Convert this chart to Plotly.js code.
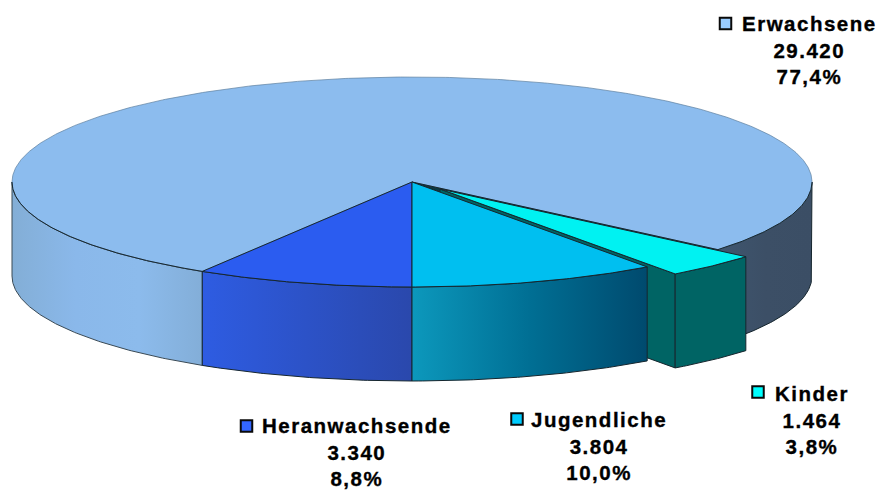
<!DOCTYPE html>
<html>
<head>
<meta charset="utf-8">
<script src="https://cdn.plot.ly/plotly-3.0.1.min.js"></script>
<style>
html,body{margin:0;padding:0;background:#fff}
#chart{width:878px;height:491px}
.annotation-text{letter-spacing:1.5px;stroke:#000;stroke-width:0.35px}
</style>
</head>
<body>
<div id="chart"></div>
<script>
const categories = ["Erwachsene", "Kinder", "Jugendliche", "Heranwachsende"];
const values = [29420, 1464, 3804, 3340];
const valueLabels = ["29.420", "1.464", "3.804", "3.340"];
const percentLabels = ["77,4%", "3,8%", "10,0%", "8,8%"];
const topColors = ["#8cbcee", "#00f2f2", "#00bff0", "#2b5cf0"];
const keyColors = ["#99ccff", "#00ffff", "#00ccff", "#3366ff"];

// Pie geometry in the pixel-scaled axes
const cx = 412, cy = 182, rx = 400, ry = 105, depth = 94;
const kinderShift = [28, 7];
const edge = "#16262e";
const labelAnchor = [[809, 50], [812, 420], [599, 446], [357, 452]];
const keyAnchor = [[725.5, 23.5], [758, 392], [517, 419], [246.5, 426]];

const total = values.reduce((a, b) => a + b, 0);
const sweep = values.map(v => v / total * 360);
// Angles measured from the front of the ellipse, positive to the right
const jugEnd = sweep[2];
const kinEnd = jugEnd + sweep[1];
const herStart = -sweep[3];

const rad = d => d * Math.PI / 180;
const rim = (t, s = [0, 0], dz = 0) => [cx + s[0] + rx * Math.sin(rad(t)), cy + s[1] + dz + ry * Math.cos(rad(t))];
function arc(a, b, s, dz) {
  const n = Math.max(2, Math.ceil(Math.abs(b - a) * 2)), out = [];
  for (let i = 0; i <= n; i++) out.push(rim(a + (b - a) * i / n, s, dz));
  return out;
}
function poly(points, fill, grad, lineW, lineC) {
  const tr = {
    type: "scatter", mode: "lines", hoverinfo: "skip", showlegend: false,
    x: points.map(p => p[0]), y: points.map(p => p[1]),
    fill: "toself",
    line: {color: lineC === undefined ? edge : lineC, width: lineW === undefined ? 1 : lineW}
  };
  if (grad) tr.fillgradient = {type: "horizontal", colorscale: grad.map((c, i) => [i / (grad.length - 1), c])};
  else tr.fillcolor = fill;
  return tr;
}
const closed = p => p.concat([p[0]]);
const wedgeTop = (a, b, s = [0, 0]) => closed([[cx + s[0], cy + s[1]]].concat(arc(a, b, s, 0)));
const wall = (a, b, s = [0, 0]) => closed(arc(a, b, s, 0).concat(arc(b, a, s, depth)));

const traces = [];
// Erwachsene: outer wall, then top
traces.push(poly(wall(kinEnd, 90), null, ["#3f566f", "#3c4f66", "#3b4e65"], 1));
traces.push(poly(wall(-90, herStart), null, ["#83aed6", "#8ab8ea", "#8cbbec", "#83aed8"], 1, "#3a4a55"));
traces.push(poly(wedgeTop(kinEnd, 360 + herStart), topColors[0], null, 0.7, "#5d7f9f"));
traces.push({type: "scatter", mode: "lines", hoverinfo: "skip", showlegend: false,
  x: arc(-90, herStart).map(p => p[0]), y: arc(-90, herStart).map(p => p[1]), line: {color: edge, width: 1}});
traces.push({type: "scatter", mode: "lines", hoverinfo: "skip", showlegend: false,
  x: arc(kinEnd, 90).map(p => p[0]), y: arc(kinEnd, 90).map(p => p[1]), line: {color: edge, width: 1}});
// Opening left behind by the pulled-out Kinder slice
traces.push(poly(wedgeTop(jugEnd, kinEnd), "#0d3a44", null, 1));
// Heranwachsende
traces.push(poly(wall(herStart, 0), null, ["#2e5ce2", "#2a48ac"], 1));
traces.push(poly(wedgeTop(herStart, 0), topColors[3], null, 1));
// Kinder: cut face, outer wall, top (exploded)
const kA = [cx + kinderShift[0], cy + kinderShift[1]];
const kB = rim(jugEnd, kinderShift);
traces.push(poly(closed([kA, kB, [kB[0], kB[1] + depth], [kA[0], kA[1] + depth]]), "#006464", null, 1));
traces.push(poly(wall(jugEnd, kinEnd, kinderShift), "#006464", null, 1));
traces.push(poly(wedgeTop(jugEnd, kinEnd, kinderShift), topColors[1], null, 1));
// Jugendliche
traces.push(poly(wall(0, jugEnd), null, ["#0c98bc", "#006f94", "#004a6e"], 1));
traces.push(poly(wedgeTop(0, jugEnd), topColors[2], null, 1));
// Legend keys
traces.push({
  type: "scatter", mode: "markers", hoverinfo: "skip", showlegend: false,
  x: keyAnchor.map(p => p[0]), y: keyAnchor.map(p => p[1]),
  marker: {symbol: "square", size: 11.5, color: keyColors, line: {color: "#0a0a0a", width: 2}}
});

const annotations = categories.map((c, i) => ({
  x: labelAnchor[i][0], y: labelAnchor[i][1], xref: "x", yref: "y",
  xanchor: "center", yanchor: "middle", align: "center", showarrow: false,
  text: c + "<br>" + valueLabels[i] + "<br>" + percentLabels[i],
  font: {family: "Liberation Sans, Arial, sans-serif", size: 20.5, color: "#000000", weight: 700}
}));

Plotly.newPlot("chart", traces, {
  width: 878, height: 491,
  margin: {l: 0, r: 0, t: 0, b: 0},
  paper_bgcolor: "#ffffff", plot_bgcolor: "#ffffff",
  xaxis: {range: [0, 878], visible: false, fixedrange: true},
  yaxis: {range: [491, 0], visible: false, fixedrange: true},
  annotations
}, {displayModeBar: false, staticPlot: true});
</script>
</body>
</html>
